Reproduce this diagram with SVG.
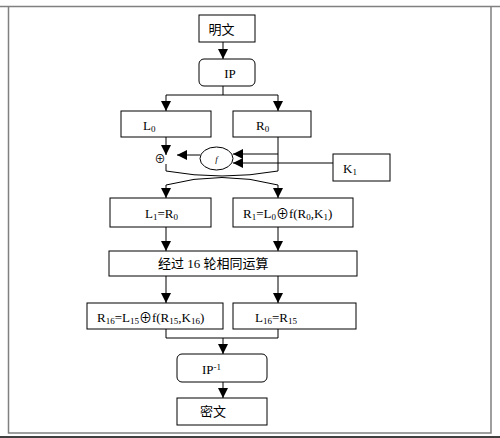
<svg xmlns="http://www.w3.org/2000/svg" width="500" height="438" viewBox="0 0 500 438">
<style>
.box{fill:#fff;stroke:#000;stroke-width:1}
.ln{fill:none;stroke:#000;stroke-width:1}
.t{font-family:"Liberation Serif","Noto Sans CJK SC",serif;font-size:13px;fill:#000}
.s{font-size:9px}
</style>
<defs>
<marker id="ah" viewBox="0 0 10 10" refX="10" refY="5" markerWidth="10" markerHeight="10" markerUnits="userSpaceOnUse" orient="auto">
<path d="M0,0 L10,5 L0,10 Z" fill="#000"/>
</marker>
</defs>
<rect x="0" y="0" width="500" height="438" fill="#fff"/>
<g id="frame">
<line x1="0" y1="6.5" x2="500" y2="6.5" stroke="#808080" stroke-width="1.5"/>
<polyline points="8.5,6.5 8.5,433 491,433 491,6.5" fill="none" stroke="#808080" stroke-width="1.5"/>
<line x1="0" y1="437" x2="500" y2="437" stroke="#000" stroke-width="1.5"/>
</g>
<g id="connectors">
<line class="ln" x1="223" y1="42" x2="223" y2="59" marker-end="url(#ah)"/>
<polyline class="ln" points="223,86 223,95 166,95 166,111" marker-end="url(#ah)"/>
<polyline class="ln" points="223,95 278,95 278,111" marker-end="url(#ah)"/>
<line class="ln" x1="166" y1="137" x2="166" y2="155" marker-end="url(#ah)"/>
<line class="ln" x1="200" y1="155" x2="177" y2="155" marker-end="url(#ah)"/>
<polyline class="ln" points="278,137 278,154 233,154" marker-end="url(#ah)"/>
<line class="ln" x1="278" y1="154" x2="278" y2="171"/>
<line class="ln" x1="333" y1="163" x2="233" y2="163" marker-end="url(#ah)"/>
<line class="ln" x1="166" y1="164" x2="166" y2="171"/>
<path class="ln" d="M166,171 Q222,181 278,171"/>
<path class="ln" d="M166,185 Q222,170 278,185"/>
<line class="ln" x1="166" y1="185" x2="166" y2="198" marker-end="url(#ah)"/>
<line class="ln" x1="278" y1="185" x2="278" y2="198" marker-end="url(#ah)"/>
<line class="ln" x1="166" y1="227" x2="166" y2="251" marker-end="url(#ah)"/>
<line class="ln" x1="278" y1="227" x2="278" y2="251" marker-end="url(#ah)"/>
<line class="ln" x1="166" y1="276" x2="166" y2="303" marker-end="url(#ah)"/>
<line class="ln" x1="278" y1="276" x2="278" y2="303" marker-end="url(#ah)"/>
<polyline class="ln" points="166,329 166,338 278,338 278,329"/>
<line class="ln" x1="223" y1="338" x2="223" y2="354" marker-end="url(#ah)"/>
<line class="ln" x1="223" y1="382" x2="223" y2="398" marker-end="url(#ah)"/>
</g>
<g id="n-plain">
<rect class="box" x="199" y="15" width="56" height="27"/>
<text class="t" x="221.5" y="34" text-anchor="middle">明文</text>
</g>
<g id="n-ip">
<rect class="box" x="199" y="59" width="56" height="27" rx="5"/>
<text class="t" x="230" y="78" text-anchor="middle">IP</text>
</g>
<g id="n-l0">
<rect class="box" x="121" y="111" width="90" height="26"/>
<text class="t" x="143" y="130">L<tspan class="s" dy="2">0</tspan></text>
</g>
<g id="n-r0">
<rect class="box" x="233" y="111" width="78" height="26"/>
<text class="t" x="256" y="130">R<tspan class="s" dy="2">0</tspan></text>
</g>
<g id="n-xor">
<text class="t" x="160" y="163" text-anchor="middle" style="font-size:11px">⊕</text>
</g>
<g id="n-f">
<ellipse class="box" cx="216.5" cy="158.5" rx="16.5" ry="11.5"/>
<text class="t" x="216.5" y="162" text-anchor="middle" style="font-size:9px;font-style:italic">f</text>
</g>
<g id="n-k1">
<rect class="box" x="333" y="154" width="57" height="27"/>
<text class="t" x="343" y="173">K<tspan class="s" dy="2">1</tspan></text>
</g>
<g id="n-l1">
<rect class="box" x="110" y="198" width="101" height="29"/>
<text class="t" x="145" y="218">L<tspan class="s" dy="2">1</tspan><tspan dy="-2">=R</tspan><tspan class="s" dy="2">0</tspan></text>
</g>
<g id="n-r1">
<rect class="box" x="233" y="198" width="120" height="29"/>
<text class="t" x="243" y="218">R<tspan class="s" dy="2">1</tspan><tspan dy="-2">=L</tspan><tspan class="s" dy="2">0</tspan><tspan dy="-2">⊕f(R</tspan><tspan class="s" dy="2">0</tspan><tspan dy="-2">,K</tspan><tspan class="s" dy="2">1</tspan><tspan dy="-2">)</tspan></text>
</g>
<g id="n-rounds">
<rect class="box" x="109" y="251" width="248" height="25"/>
<text class="t" x="158" y="268">经过 16 轮相同运算</text>
</g>
<g id="n-r16">
<rect class="box" x="87" y="303" width="136" height="26"/>
<text class="t" x="97" y="322">R<tspan class="s" dy="2">16</tspan><tspan dy="-2">=L</tspan><tspan class="s" dy="2">15</tspan><tspan dy="-2">⊕f(R</tspan><tspan class="s" dy="2">15</tspan><tspan dy="-2">,K</tspan><tspan class="s" dy="2">16</tspan><tspan dy="-2">)</tspan></text>
</g>
<g id="n-l16">
<rect class="box" x="233" y="303" width="123" height="26"/>
<text class="t" x="255" y="322">L<tspan class="s" dy="2">16</tspan><tspan dy="-2">=R</tspan><tspan class="s" dy="2">15</tspan></text>
</g>
<g id="n-ipinv">
<rect class="box" x="177" y="354" width="90" height="28" rx="5"/>
<text class="t" x="202" y="374">IP<tspan class="s" dy="-4">-1</tspan></text>
</g>
<g id="n-cipher">
<rect class="box" x="177" y="398" width="90" height="27"/>
<text class="t" x="213" y="416" text-anchor="middle">密文</text>
</g>
</svg>
